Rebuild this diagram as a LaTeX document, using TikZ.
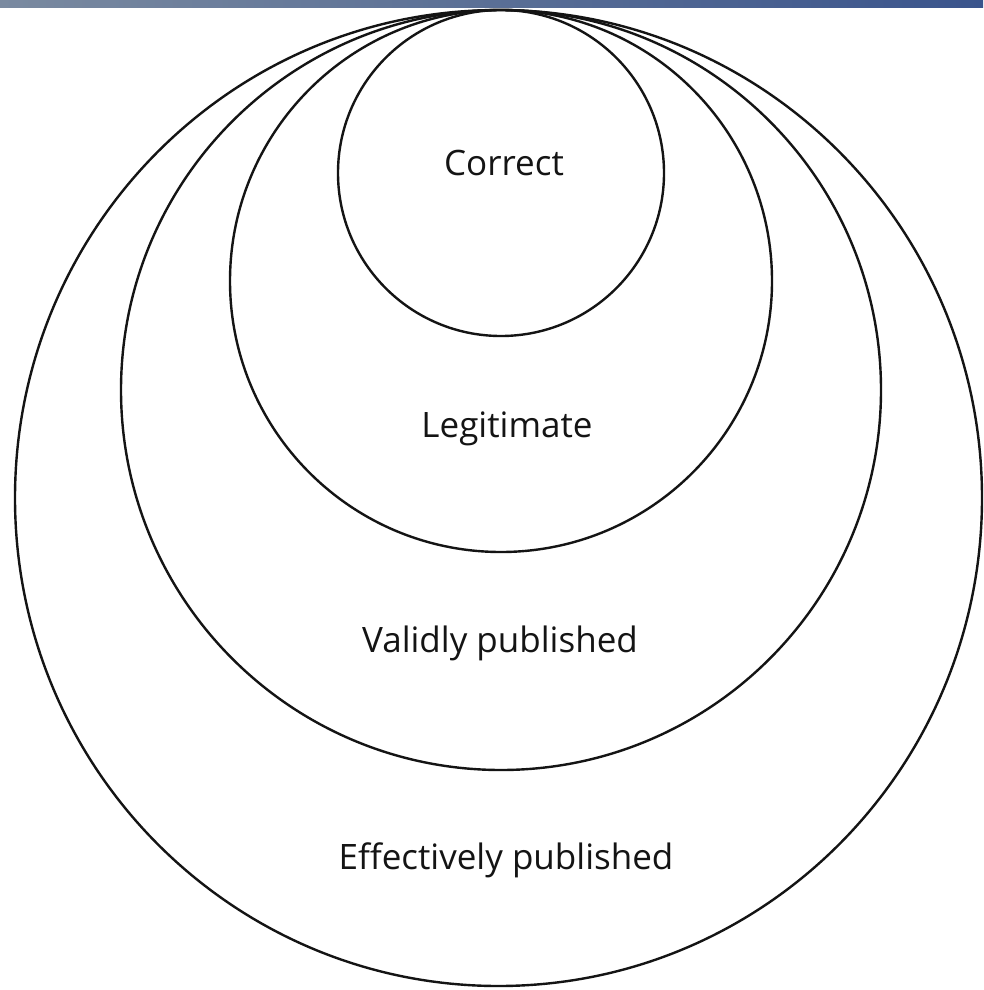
\documentclass[tikz,border=0pt]{standalone}
\usepackage{fontspec}
\setmainfont{Open Sans}
\definecolor{barleft}{RGB}{122,138,160}
\definecolor{barright}{RGB}{58,84,140}
\definecolor{ink}{RGB}{20,20,20}
\begin{document}
\begin{tikzpicture}[x=1pt,y=-1pt]
\tikzset{
  ring/.style={draw=ink, line width=2.4pt},
  lbl/.style={anchor=base, inner sep=0pt, font=\fontsize{35}{40}\selectfont, text=ink}
}
\useasboundingbox (0,0) rectangle (983,990);
\fill[white] (0,0) rectangle (983,990);
% rings
\draw[ring] (498.5,498) ellipse [x radius=483.5, y radius=488];
\draw[ring] (501,390) circle [radius=380];
\draw[ring] (501,281) circle [radius=271];
\draw[ring] (501,173) circle [radius=163];
% top bar
\shade[left color=barleft, right color=barright] (0,0) rectangle (983,8);
% labels
\node[lbl] (correct) at (504,175) {Correct};
\node[lbl] (legit) at (507,437) {Legitimate};
\node[lbl] (valid) at (500,652) {Validly published};
\node[lbl] (effect) at (506,869) {Effectively published};
\end{tikzpicture}
\end{document}
